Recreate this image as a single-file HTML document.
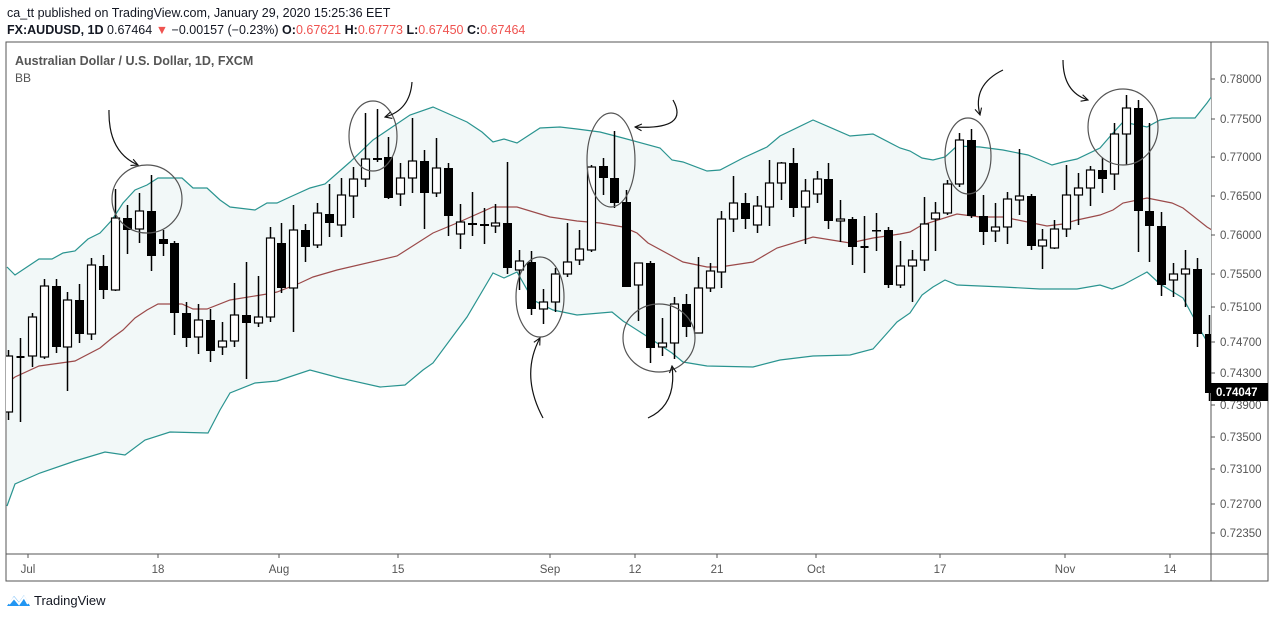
<!DOCTYPE html>
<html><head><meta charset="utf-8"><style>
body{margin:0;background:#fff;width:1274px;height:618px;overflow:hidden;font-family:"Liberation Sans",sans-serif;}
svg{position:absolute;left:0;top:0}
</style></head><body>
<svg id="s" width="1274" height="618" xmlns="http://www.w3.org/2000/svg" font-family="Liberation Sans, sans-serif">
<defs>
<clipPath id="pc"><rect x="6" y="42" width="1205" height="512"/></clipPath>
<marker id="ah" viewBox="0 0 10 10" refX="9" refY="5" markerWidth="7" markerHeight="7" orient="auto"><path d="M1,1 L9,5 L1,9" fill="none" stroke="#111" stroke-width="1.3"/></marker>
</defs>
<text x="7" y="17" font-size="12.5" fill="#131722">ca_tt published on TradingView.com, January 29, 2020 15:25:36 EET</text>
<text x="7" y="34" font-size="12.5" fill="#131722"><tspan font-weight="bold">FX:AUDUSD, 1D</tspan> 0.67464 <tspan fill="#ef5350">▼</tspan> −0.00157 (−0.23%) <tspan font-weight="bold">O:</tspan><tspan fill="#ef5350">0.67621</tspan> <tspan font-weight="bold">H:</tspan><tspan fill="#ef5350">0.67773</tspan> <tspan font-weight="bold">L:</tspan><tspan fill="#ef5350">0.67450</tspan> <tspan font-weight="bold">C:</tspan><tspan fill="#ef5350">0.67464</tspan></text>
<rect x="6" y="42" width="1262" height="539" fill="none" stroke="#555" stroke-width="1"/>
<line x1="1211" y1="42" x2="1211" y2="581" stroke="#555"/>
<line x1="6" y1="554" x2="1268" y2="554" stroke="#555"/>
<g id="plot" clip-path="url(#pc)"></g>
<text x="15" y="65" font-size="12.5" font-weight="bold" fill="#555">Australian Dollar / U.S. Dollar, 1D, FXCM</text>
<text x="15" y="82" font-size="12" fill="#555">BB</text>
<g id="ax" font-size="11.5" fill="#555"></g>
<g id="tx" font-size="11.5" fill="#555"></g>
<rect x="1211" y="383" width="57" height="18" fill="#000"/>
<text x="1216" y="396" font-size="11.5" font-weight="bold" fill="#fff">0.74047</text>
<g fill="none" stroke="#555" stroke-width="1.2">
<ellipse cx="147" cy="199" rx="35" ry="34"/>
<ellipse cx="373" cy="136" rx="24" ry="35"/>
<ellipse cx="540" cy="297" rx="24" ry="40"/>
<ellipse cx="611" cy="160" rx="24" ry="47"/>
<ellipse cx="659" cy="338" rx="36" ry="34"/>
<ellipse cx="968" cy="156" rx="23" ry="38"/>
<ellipse cx="1123" cy="127" rx="35" ry="38"/>
</g>
<g fill="none" stroke="#111" stroke-width="1.2" marker-end="url(#ah)">
<path d="M109,110 Q108,152 138,165"/>
<path d="M412,82 Q410,110 385,117"/>
<path d="M543,418 Q520,375 540,338"/>
<path d="M673,100 Q690,130 635,127"/>
<path d="M648,418 Q677,405 672,366"/>
<path d="M1003,70 Q972,85 980,115"/>
<path d="M1063,60 Q1063,92 1088,100"/>
</g>
<g transform="translate(7,592)">
<path d="M0,14 L7,4 L12,10 L17,3 L23,14 Z" fill="#2196f3"/>
<path d="M2,12 L7,6 L12,12 L17,5 L21,12" fill="none" stroke="#fff" stroke-width="2"/>
</g>
<text x="34" y="605" font-size="13" fill="#131722">TradingView</text>
</svg>
<script>
var NS="http://www.w3.org/2000/svg";
function el(p,t,a,txt){var e=document.createElementNS(NS,t);for(var k in a)e.setAttribute(k,a[k]);if(txt)e.textContent=txt;p.appendChild(e);return e;}
var plot=document.getElementById('plot');
var up=[[7,267],[15,275],[39,259],[52,259],[63,253],[75,251],[88,239],[100,233],[112,220],[123,203],[135,190],[147,185],[158,178],[182,178],[193,188],[207,188],[220,200],[230,207],[255,210],[267,203],[277,203],[290,197],[310,188],[325,184],[350,162],[373,140],[410,115],[433,107],[467,122],[482,132],[493,142],[504,139],[517,143],[540,128],[560,127],[577,129],[600,132],[623,138],[660,148],[672,160],[683,162],[707,171],[720,170],[743,158],[767,147],[780,136],[813,120],[850,136],[873,134],[900,148],[910,151],[922,158],[933,160],[945,157],[957,146],[980,147],[1003,150],[1028,155],[1040,160],[1052,165],[1063,162],[1077,159],[1100,148],[1113,133],[1123,122],[1147,127],[1160,120],[1172,118],[1195,118],[1207,103],[1212,96]];
var lo=[[7,506],[15,484],[40,473],[75,461],[105,452],[125,455],[145,440],[170,432],[208,433],[220,410],[230,393],[255,383],[277,381],[310,370],[340,378],[380,387],[405,385],[423,370],[433,363],[467,317],[493,273],[504,278],[517,272],[533,300],[553,310],[577,315],[612,312],[623,321],[648,337],[672,353],[683,362],[707,366],[753,367],[780,360],[813,356],[850,355],[873,349],[897,322],[910,313],[922,295],[933,287],[945,280],[957,285],[1003,287],[1040,289],[1077,289],[1100,285],[1112,289],[1123,285],[1147,272],[1160,284],[1183,298],[1202,333],[1212,350]];
var mid=[[7,383],[15,377],[39,366],[75,361],[100,348],[112,338],[123,330],[135,318],[147,310],[158,304],[182,304],[193,309],[207,309],[230,300],[267,294],[277,292],[300,283],[313,277],[337,270],[397,256],[433,233],[457,223],[493,207],[517,207],[550,217],[577,221],[600,223],[623,227],[637,233],[648,243],[683,262],[707,267],[720,267],[753,262],[777,248],[813,237],[850,243],[873,238],[900,234],[910,232],[922,225],[957,214],[980,217],[1003,217],[1047,226],[1063,224],[1077,220],[1100,215],[1113,210],[1123,203],[1147,198],[1172,203],[1183,208],[1207,227],[1212,230]];
function pts(a){return a.map(function(p){return p[0]+','+p[1]}).join(' ');}
el(plot,'polygon',{points:pts(up)+' '+pts(lo.slice().reverse()),fill:'#f2f8f8'});
el(plot,'polyline',{points:pts(up),fill:'none',stroke:'#2a9490','stroke-width':1.2});
el(plot,'polyline',{points:pts(lo),fill:'none',stroke:'#2a9490','stroke-width':1.2});
el(plot,'polyline',{points:pts(mid),fill:'none',stroke:'#9b4a4a','stroke-width':1.2});
var C=[[1,356,412,350,420],[2,357,357,338,422],[1,317,356,313,367],[1,286,357,279,359],[0,286,347,279,353],[1,300,347,292,391],[0,300,334,284,343],[1,265,334,258,340],[0,266,290,255,299],[1,218,290,189,291],[0,218,230,205,254],[1,211,229,193,243],[0,211,256,175,271],[0,239,244,230,256],[0,243,313,241,335],[0,313,338,302,347],[1,320,337,304,354],[0,320,351,309,362],[1,341,347,322,355],[1,315,341,283,347],[0,315,323,262,379],[1,317,323,276,327],[1,238,317,227,322],[0,243,288,223,293],[1,230,288,205,332],[0,230,247,224,262],[1,213,245,203,248],[0,214,223,184,237],[1,195,225,178,237],[1,179,196,167,218],[1,159,179,113,187],[0,158,160,109,162],[0,157,198,137,199],[1,178,194,163,206],[1,161,178,118,193],[0,161,193,150,229],[1,168,193,138,197],[0,168,216,163,236],[1,222,234,204,249],[0,223,225,192,236],[0,224,226,208,244],[1,223,226,204,233],[0,223,268,162,274],[1,261,270,250,290],[0,262,309,251,315],[1,302,309,289,324],[1,274,302,268,312],[1,262,274,223,277],[1,249,260,230,265],[1,167,250,165,252],[0,166,178,158,195],[0,178,203,131,208],[0,202,287,190,287],[1,263,285,263,321],[0,263,348,261,363],[1,343,347,318,356],[1,304,343,297,359],[0,304,327,294,337],[1,288,333,257,333],[1,271,288,263,292],[1,219,272,211,288],[1,203,219,176,232],[0,203,219,193,229],[1,206,225,196,233],[1,183,207,160,226],[1,163,183,162,200],[0,163,208,148,217],[1,191,207,179,244],[1,179,194,171,203],[0,179,221,163,229],[1,219,221,200,242],[0,219,247,217,265],[2,247,247,216,273],[0,230,231,213,251],[0,230,285,227,288],[1,266,285,241,288],[1,260,266,250,302],[1,224,260,197,271],[1,213,219,202,251],[1,184,213,180,215],[1,140,184,133,187],[0,140,216,129,218],[0,216,232,195,245],[1,227,231,203,242],[1,199,227,192,244],[1,196,200,149,215],[0,196,246,194,250],[1,240,246,229,269],[1,229,248,220,249],[1,195,229,165,237],[1,188,195,173,225],[1,170,188,166,206],[0,170,179,158,193],[1,134,174,123,190],[1,108,134,95,165],[0,108,211,100,252],[0,211,226,123,262],[0,226,285,212,296],[1,274,280,263,297],[1,269,274,250,307],[0,269,334,258,347],[0,334,393,315,401]];
C.forEach(function(c,i){
 var x=Math.round(8+i*11.89)+0.5;
 el(plot,'line',{x1:x,y1:c[3],x2:x,y2:c[4],stroke:'#000','stroke-width':1.5});
 if(c[0]==2){el(plot,'line',{x1:x-4,y1:c[1],x2:x+4,y2:c[1],stroke:'#000','stroke-width':2});return;}
 var h=Math.max(c[2]-c[1],1.5);
 if(c[0]==1) el(plot,'rect',{x:x-4,y:c[1],width:8,height:h,fill:'#fff',stroke:'#000','stroke-width':1.2});
 else el(plot,'rect',{x:x-4.5,y:c[1],width:9,height:h,fill:'#000'});
});
var ax=document.getElementById('ax');
[['0.78000',79],['0.77500',119],['0.77000',157],['0.76500',196],['0.76000',235],['0.75500',274],['0.75100',307],['0.74700',342],['0.74300',373],['0.73900',405],['0.73500',437],['0.73100',469],['0.72700',504],['0.72350',533]].forEach(function(l){
 el(ax,'line',{x1:1211,y1:l[1],x2:1215,y2:l[1],stroke:'#555'});
 el(ax,'text',{x:1220,y:l[1]+4},l[0]);
});
var tx=document.getElementById('tx');
[['Jul',28],['18',158],['Aug',279],['15',398],['Sep',550],['12',635],['21',717],['Oct',816],['17',940],['Nov',1065],['14',1170]].forEach(function(l){
 el(tx,'line',{x1:l[1],y1:554,x2:l[1],y2:558,stroke:'#555'});
 el(tx,'text',{x:l[1],y:573,'text-anchor':'middle'},l[0]);
});
</script>
</body></html>
